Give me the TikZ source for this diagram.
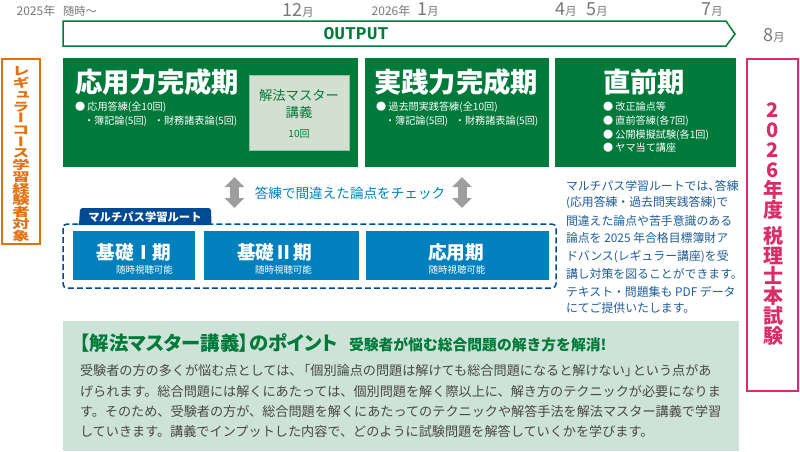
\documentclass[tikz,border=0pt]{standalone}
\usepackage{fontspec}
\usepackage{xcolor}
\usetikzlibrary{arrows.meta}
\setmainfont{Noto Sans CJK JP}
\setmonofont{Liberation Mono}
\newfontfamily\vertfont[RawFeature=+vert]{Noto Sans CJK JP}
\newfontfamily\paltfont[RawFeature=+palt]{Noto Sans CJK JP}
\newcommand{\fs}[1]{\fontsize{#1}{#1}\selectfont}
\newcommand{\mon}[1]{{\fs{13.5}#1}{\fs{8.5}月}}
\def\px{0.75pt}
\definecolor{termgreen}{HTML}{007A3A}
\definecolor{palegreen}{HTML}{CEE3D7}
\definecolor{masterbox}{HTML}{D3DFD0}
\definecolor{routeblue}{HTML}{0080BD}
\definecolor{routenavy}{HTML}{004A94}
\definecolor{paratext}{HTML}{1F5C99}
\definecolor{orangeline}{HTML}{E3700F}
\definecolor{examred}{HTML}{D92D66}
\definecolor{monthgray}{HTML}{777777}
\tikzset{
  every node/.style={inner sep=0pt, outer sep=0pt},
  month/.style={text=monthgray, font=\fs{9}},
  termbox/.style={fill=termgreen, minimum height=109*\px},
  termtitle/.style={text=white, font=\fs{20.5}\bfseries},
  termitem/.style={text=white, anchor=west, font=\fs{7.6}},
  routebox/.style={fill=routeblue, minimum height=49*\px},
  routetitle/.style={text=white, font=\fs{14}\bfseries},
  routesub/.style={text=white, font=\fs{7.1}},
  paraline/.style={text=paratext, anchor=west, font=\fs{8.9}},
  bodyline/.style={text=black!72, anchor=west, font=\fs{9.85}},
  checkarrow/.style={draw=black!38, line width=9*\px, {Triangle[width=19*\px,length=10*\px]}-{Triangle[width=19*\px,length=10*\px]}},
}
\begin{document}
\begin{tikzpicture}[x=0.75pt, y=-0.75pt]
    \useasboundingbox (0,0) rectangle (800,451);

    \node[month] (y2025) at (36,11) {2025年};
    \node[month, font=\fs{8.5}] (anytime) at (80,11) {随時～};
    \node[month] (m12) at (298,10) {\mon{12}};
    \node[month] (y2026) at (391,11) {2026年};
    \node[month] (m1) at (428,10) {\mon{1}};
    \node[month] (m4) at (566,10) {\mon{4}};
    \node[month] (m5) at (597,10) {\mon{5}};
    \node[month] (m7) at (712,10) {\mon{7}};
    \node[month] (m8) at (774,35) {\mon{8}};

    \draw[termgreen, line width=1.5*\px, fill=white] (63,21) -- (726,21) -- (735,34) -- (726,46) -- (63,46) -- cycle;
    \node[text=termgreen, font=\ttfamily\bfseries\fs{13.5}] (output) at (356,34) {OUTPUT};

    \node[termbox, minimum width=295*\px] (applied) at (210.5,112.5) {};
    \node[termbox, minimum width=184*\px] (practice) at (457,112.5) {};
    \node[termbox, minimum width=181*\px] (final) at (645,112.5) {};

    \node[termtitle] (appliedtitle) at (157,82) {応用力完成期};
    \node[termitem] (applied1) at (75,107) {● 応用答練(全10回)};
    \node[termitem] (applied2) at (84,121) {・簿記論(5回)\ \ \ ・財務諸表論(5回)};
    \node[fill=masterbox, draw=termgreen!45, minimum width=100*\px, minimum height=75*\px] (master) at (299,112.5) {};
    \node[text=termgreen, align=center, font=\fs{10}] (mastertitle) at (299,104) {解法マスター\\[2.5pt]講義};
    \node[text=termgreen, font=\fs{7.5}] (mastercount) at (299,134) {10回};

    \node[termtitle] (practicetitle) at (456,82) {実践力完成期};
    \node[termitem] (practice1) at (376,107) {● 過去問実践答練(全10回)};
    \node[termitem] (practice2) at (385,121) {・簿記論(5回)\ \ \ ・財務諸表論(5回)};

    \node[termtitle] (finaltitle) at (644,82) {直前期};
    \node[termitem] (final1) at (603,107) {● 改正論点等};
    \node[termitem] (final2) at (603,121) {● 直前答練(各7回)};
    \node[termitem] (final3) at (603,135) {● 公開模擬試験(各1回)};
    \node[termitem] (final4) at (603,148) {● ヤマ当て講座};

    \coordinate (leftup) at (234.5,177);
    \coordinate (leftdown) at (234.5,208);
    \coordinate (rightup) at (462,177);
    \coordinate (rightdown) at (462,208);
    \draw[checkarrow] (leftup) -- (leftdown);
    \draw[checkarrow] (rightup) -- (rightdown);
    \node[text=routeblue, font=\fs{10.2}] (check) at (350,193) {答練で間違えた論点をチェック};

    \draw[routenavy, line width=1.5*\px, dash pattern=on 6*\px off 3*\px, rounded corners=3pt] (63,224) rectangle (556,288);
    \fill[routenavy, rounded corners=2pt] (79,225) -- (80,208) -- (211,208) -- (211.5,225) [sharp corners] -- cycle;
    \node[text=white, font=\fs{8.5}\bfseries] (route) at (145,217) {マルチパス学習ルート};

    \node[routebox, minimum width=122*\px] (basic1) at (134,255.5) {};
    \node[routebox, minimum width=155*\px] (basic2) at (281,255.5) {};
    \node[routebox, minimum width=183*\px] (advanced) at (457.5,255.5) {};
    \node[routetitle] (basic1title) at (134,252) {基礎Ⅰ期};
    \node[routesub] (basic1sub) at (144.5,270) {随時視聴可能};
    \node[routetitle] (basic2title) at (274.5,252) {基礎Ⅱ期};
    \node[routesub] (basic2sub) at (283.5,270) {随時視聴可能};
    \node[routetitle] (advancedtitle) at (456,252) {応用期};
    \node[routesub] (advancedsub) at (457,270) {随時視聴可能};

    \node[paraline] (para1) at (566,186) {マルチパス学習ルートでは、\kern-4pt 答練};
    \node[paraline] (para2) at (566,203) {(応用答練・過去問実践答練)で};
    \node[paraline] (para3) at (566,221) {間違えた論点や苦手意識のある};
    \node[paraline] (para4) at (566,238) {論点を 2025 年合格目標簿財ア};
    \node[paraline] (para5) at (566,257) {ドバンス(レギュラー講座)を受};
    \node[paraline] (para6) at (566,274) {講し対策を図ることができます。};
    \node[paraline] (para7) at (566,292) {テキスト・問題集も PDF データ};
    \node[paraline] (para8) at (566,308) {にてご提供いたします。};

    \node[fill=palegreen, minimum width=676*\px, minimum height=130*\px] (point) at (401,386) {};
    \node[text=termgreen, anchor=west, font=\paltfont\fs{14.5}\bfseries] (pointtitle) at (80,343) {【解法マスター講義】のポイント};
    \node[text=termgreen, anchor=west, font=\fs{11.1}\bfseries] (pointsub) at (349,345) {受験者が悩む総合問題の解き方を解消!};
    \node[bodyline] (body1) at (80,370) {受験者の方の多くが悩む点としては、\kern-4pt「個別論点の問題は解けても総合問題になると解けない」\kern-4pt という点があ};
    \node[bodyline] (body2) at (80,391) {げられます。総合問題には解くにあたっては、個別問題を解く際以上に、解き方のテクニックが必要になりま};
    \node[bodyline] (body3) at (80,411) {す。そのため、受験者の方が、総合問題を解くにあたってのテクニックや解答手法を解法マスター講義で学習};
    \node[bodyline] (body4) at (80,431) {していきます。講義でインプットした内容で、どのように試験問題を解答していくかを学びます。};

    \node[draw=orangeline, line width=2*\px, fill=white, minimum width=38*\px, minimum height=185*\px] (target) at (21,151) {};
    \node[text=orangeline, align=center, yscale=0.69, transform shape, font=\vertfont\fontsize{13}{12.75}\selectfont\bfseries] (targettext) at (21,154) {レ\\ギ\\ュ\\ラ\\ー\\コ\\ー\\ス\\学\\習\\経\\験\\者\\対\\象};

    \node[draw=examred, line width=2.5*\px, fill=white, minimum width=51*\px, minimum height=332*\px] (exam) at (772.5,225) {};
    \node[text=examred, align=center, font=\fontsize{15}{15}\selectfont\bfseries] (examtext) at (773,224.5) {2\\0\\2\\6\\年\\度\\[4.5pt]税\\理\\士\\本\\試\\験};
\end{tikzpicture}
\end{document}
